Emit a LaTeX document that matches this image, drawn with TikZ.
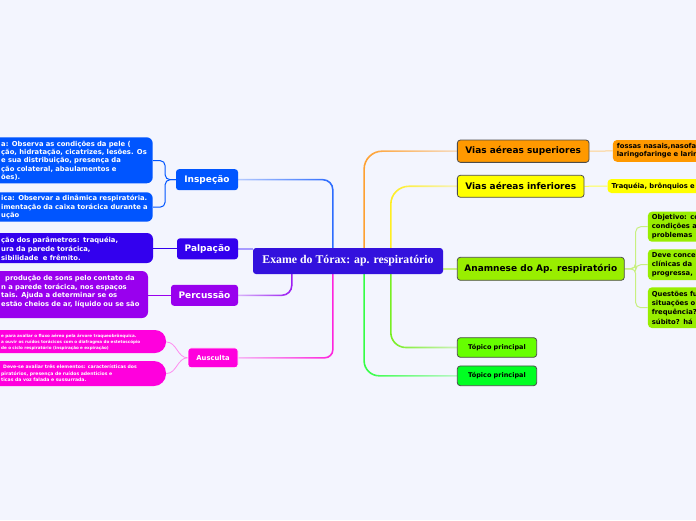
\documentclass[tikz,border=0pt]{standalone}
\usepackage{fontspec}
\usetikzlibrary{fadings}
\newfontfamily\vf{DejaVu Sans}
\newfontfamily\gf{Liberation Serif}
\definecolor{bgc}{HTML}{F3F5FE}
\definecolor{ccen}{HTML}{3311DD}
\definecolor{cinsp}{HTML}{0055FF}
\definecolor{cpalp}{HTML}{3300EE}
\definecolor{cperc}{HTML}{9900EE}
\definecolor{causc}{HTML}{FF00DD}
\definecolor{csup}{HTML}{FF9900}
\definecolor{cinf}{HTML}{FFFF00}
\definecolor{cana}{HTML}{99EE00}
\definecolor{ctopa}{HTML}{66FF00}
\definecolor{ctopb}{HTML}{00FF22}
\definecolor{linsp}{HTML}{2B6BFF}
\definecolor{lpalp}{HTML}{A89CFF}
\definecolor{lperc}{HTML}{9B1BF2}
\definecolor{lausc}{HTML}{FF22DD}
\definecolor{lsup}{HTML}{FFA030}
\definecolor{linf}{HTML}{FFEE22}
\definecolor{lana}{HTML}{C8F080}
\definecolor{ltopa}{HTML}{77EE22}
\definecolor{ltopb}{HTML}{33FF44}
\tikzfading[name=fadeR, left color=transparent!0, right color=transparent!70]
\tikzfading[name=fadeL, left color=transparent!70, right color=transparent!0]
\pgfdeclarelayer{back}
\pgfsetlayers{back,main}
\tikzset{
  topic/.style={rounded corners=3pt, inner sep=0pt, align=center,
    font=\vf\bfseries\fontsize{9}{11}\selectfont},
  ltopic/.style={topic, text=white},
  rtopic/.style={topic, draw=black!70, line width=0.8pt, text=black},
  ctext/.style={inner sep=0pt, align=left, anchor=west, text=white,
    font=\vf\bfseries\fontsize{6.8}{8.33}\selectfont},
  rchild/.style={rounded corners=4pt, inner xsep=4pt, inner ysep=0pt, align=left,
    anchor=west, text width=110pt, text=black,
    font=\vf\bfseries\fontsize{6.8}{8.4}\selectfont},
  con/.style={line width=1.6pt},
  sub/.style={line width=1pt, rounded corners=5pt},
}
\begin{document}
\begin{tikzpicture}[x=1pt,y=-1pt]
\useasboundingbox (0,0) rectangle (696,520);
\begin{pgfonlayer}{back}
\fill[bgc] (0,0) rectangle (696,520);
\end{pgfonlayer}

% left child boxes
\fill[cinsp, rounded corners=6pt] (-20,137.3) rectangle (152.7,183.3);
\fill[cinsp, rounded corners=6pt] (-20,192.3) rectangle (152.7,221.7);
\fill[cpalp, rounded corners=6pt] (-20,233) rectangle (153,263);
\fill[cperc, rounded corners=6pt] (-20,271) rectangle (148,318);
\fill[causc, rounded corners=11pt] (-20,330) rectangle (166,353);
\fill[causc, rounded corners=12pt] (-20,361) rectangle (166,386);

% left child texts
\node[ctext, text width=151.7pt] (ic1) at (1,160.6) {a: Observa as condições da pele (\\ção, hidratação, cicatrizes, lesões. Os\\e sua distribuição, presença da\\ção colateral, abaulamentos e\\ões).};
\node[ctext, text width=151.7pt] (ic2) at (1,207.2) {ica: Observar a dinâmica respiratória.\\imentação da caixa torácica durante a\\ução};
\node[ctext, text width=152pt, font=\vf\bfseries\fontsize{6.8}{9}\selectfont] (pc) at (1,248.8) {ção dos parâmetros: traquéia,\\ura da parede torácica,\\sibilidade~~e frêmito.};
\node[ctext, text width=147pt, font=\vf\bfseries\fontsize{6.8}{8.7}\selectfont] (pec) at (1,291.6) {\hspace*{4pt}produção de sons pelo contato da\\n a parede torácica, nos espaços\\tais. Ajuda a determinar se os\\estão cheios de ar, líquido ou se são};
\node[ctext, text width=165pt, font=\vf\bfseries\fontsize{4.1}{6}\selectfont] (ac1) at (1,342) {e para avaliar o fluxo aéreo pela árvore traqueobrônquica.\\a ouvir os ruídos torácicos com o diafragma do estetoscópio\\de o ciclo respiratório (inspiração e expiração)};
\node[ctext, text width=165pt, font=\vf\bfseries\fontsize{4.6}{6.4}\selectfont] (ac2) at (1,373.5) {\hspace*{2pt}Deve-se avaliar três elementos: características dos\\piratórios, presença de ruídos adenticios e\\ticas da voz falada e sussurrada.};

% central
\node[topic, fill=ccen, text=white, minimum width=190pt, minimum height=26pt,
  font=\gf\bfseries\fontsize{11.8}{14}\selectfont] (cen) at (348,261) {Exame do Tórax: ap. respiratório};

% left topics
\node[ltopic, fill=cinsp, minimum width=62pt, minimum height=21pt] (insp) at (207,179.7) {Inspeção};
\node[ltopic, fill=cpalp, minimum width=61pt, minimum height=21pt] (palp) at (207.5,248.8) {Palpação};
\node[ltopic, fill=cperc, minimum width=67pt, minimum height=21pt] (perc) at (204.5,295.3) {Percussão};
\node[ltopic, fill=causc, draw=white, line width=0.6pt, minimum width=50pt, minimum height=19.7pt,
  font=\vf\bfseries\fontsize{6.8}{8}\selectfont] (ausc) at (213,357.8) {Ausculta};

% right topics
\node[rtopic, fill=csup, minimum width=131.7pt, minimum height=22.3pt] (vsup) at (523.2,151.2) {Vias aéreas superiores};
\node[rtopic, fill=cinf, minimum width=126.7pt, minimum height=22pt] (vinf) at (520.7,186.3) {Vias aéreas inferiores};
\node[rtopic, fill=cana, minimum width=167pt, minimum height=23pt] (ana) at (540.8,268.8) {Anamnese do Ap. respiratório};
\node[rtopic, fill=ctopa, minimum width=79.4pt, minimum height=19.6pt,
  font=\vf\bfseries\fontsize{6.5}{8}\selectfont] (ta) at (497,347.5) {Tópico principal};
\node[rtopic, fill=ctopb, minimum width=79.4pt, minimum height=19.7pt,
  font=\vf\bfseries\fontsize{6.5}{8}\selectfont] (tb) at (497,375.8) {Tópico principal};

% right children
\node[rchild, fill=csup, minimum height=21.7pt] (sc) at (612.7,150.9) {fossas nasais,nasofa\\laringofaringe e larin};
\node[rchild, fill=cinf, minimum height=14pt] (ifc) at (607.3,186) {Traquéia, brônquios e};
\node[rchild, fill=cana, minimum height=30pt, font=\vf\bfseries\fontsize{6.8}{9.3}\selectfont] (aa) at (647.7,226.7) {Objetivo: co\\condições a\\problemas};
\node[rchild, fill=cana, minimum height=30.7pt, font=\vf\bfseries\fontsize{6.8}{9.3}\selectfont] (ab) at (647.7,264.7) {Deve conce\\clínicas da\\progressa,};
\node[rchild, fill=cana, minimum height=40.7pt, font=\vf\bfseries\fontsize{6.8}{9.3}\selectfont] (ac) at (647.7,307.7) {Questões fu\\situações o\\frequência?\\súbito? há};

% connectors
\begin{pgfonlayer}{back}
\draw[con, draw=linsp, rounded corners=10pt, path fading=fadeL] ([xshift=80pt]cen.north west) |- (insp.east);
\draw[con, draw=lpalp] (palp.east) -- (palp.east -| cen.west);
\draw[con, draw=lperc, rounded corners=10pt, path fading=fadeL] ([xshift=39pt]cen.south west) |- (perc.east);
\draw[con, draw=lausc, rounded corners=8pt, path fading=fadeL] ([xshift=80pt]cen.south west) |- (ausc.east);
\draw[con, draw=lsup, rounded corners=18pt, path fading=fadeR] ([xshift=111.3pt]cen.north west) |- (vsup.west);
\draw[con, draw=linf, rounded corners=18pt, path fading=fadeR] ([xshift=138pt]cen.north west) |- (vinf.west);
\draw[con, draw=lana] (ana.west -| cen.east) -- (ana.west);
\draw[con, draw=ltopa, rounded corners=15pt, path fading=fadeR] ([xshift=138pt]cen.south west) |- (ta.west);
\draw[con, draw=ltopb, rounded corners=15pt, path fading=fadeR] ([xshift=111.3pt]cen.south west) |- (tb.west);

\draw[sub, draw=cinsp] (insp.west) -| ([xshift=12pt]ic1.east) -- (ic1.east);
\draw[sub, draw=cinsp] (insp.west) -| ([xshift=12pt]ic2.east) -- (ic2.east);
\draw[sub, draw=cpalp] (palp.west) -- (palp.west -| pc.east);
\draw[sub, draw=cperc] (perc.west) -- (perc.west -| pec.east);
\draw[line width=0.8pt, draw=causc!45] (ausc.west) to[out=180,in=0] (ac1.east);
\draw[line width=0.8pt, draw=causc!45] (ausc.west) to[out=180,in=0] (ac2.east);
\draw[sub, draw=csup!45] (vsup.east) -- (sc.west);
\draw[sub, draw=cinf!70] (vinf.east) -- (ifc.west);
\draw[sub, draw=lana] (ana.east) -| ([xshift=-12pt]aa.west) -- (aa.west);
\draw[sub, draw=lana] (ana.east) -| ([xshift=-12pt]ab.west) -- (ab.west);
\draw[sub, draw=lana] (ana.east) -| ([xshift=-12pt]ac.west) -- (ac.west);
\end{pgfonlayer}
\end{tikzpicture}
\end{document}
